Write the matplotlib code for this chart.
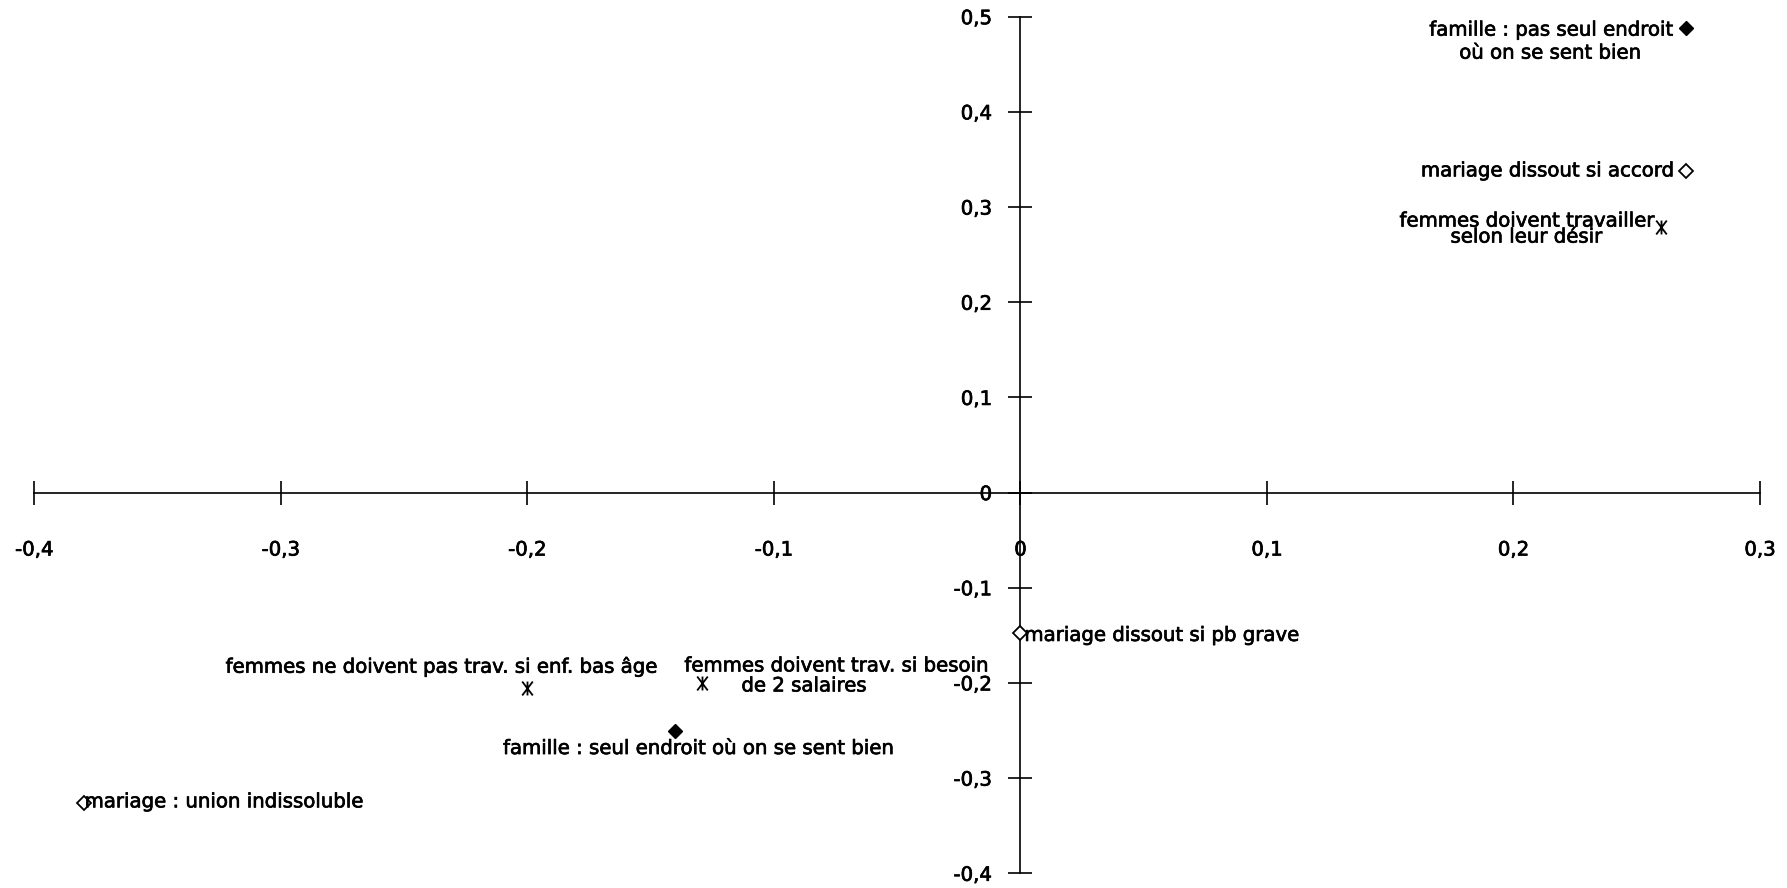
import matplotlib
matplotlib.use("Agg")
import matplotlib.pyplot as plt
import matplotlib.patheffects as pe
from matplotlib.path import Path
from matplotlib.ticker import FixedLocator, FixedFormatter

plt.rcParams['font.family'] = ['DejaVu Sans']

# factor plane: coordinates of the modalities
labels = [
    "famille : pas seul endroit\noù on se sent bien",
    "famille : seul endroit où on se sent bien",
    "mariage dissout si accord",
    "mariage dissout si pb grave",
    "mariage : union indissoluble",
    "femmes doivent travailler\nselon leur désir",
    "femmes doivent trav. si besoin\nde 2 salaires",
    "femmes ne doivent pas trav. si enf. bas âge",
]
coord_x = [0.27, -0.14, 0.27, 0.0, -0.38, 0.26, -0.129, -0.2]
coord_y = [0.488, -0.25, 0.338, -0.148, -0.326, 0.279, -0.2, -0.205]
kinds = ['filled', 'filled', 'open', 'open', 'open', 'star', 'star', 'star']

x_ticks = [-0.4, -0.3, -0.2, -0.1, 0.0, 0.1, 0.2, 0.3]
x_ticklabels = ['-0,4', '-0,3', '-0,2', '-0,1', '0', '0,1', '0,2', '0,3']
y_ticks = [-0.4, -0.3, -0.2, -0.1, 0.0, 0.1, 0.2, 0.3, 0.4, 0.5]
y_ticklabels = ['-0,4', '-0,3', '-0,2', '-0,1', '0', '0,1', '0,2', '0,3', '0,4', '0,5']

# text placement per label line: (dx, dy) in pixels from the point, alignment
line_layout = [
    [(-13, -2, 'right'), (-136, -25, 'center')],
    [(23, -18, 'center')],
    [(-12, 0, 'right')],
    [(4, -2, 'left')],
    [(1, 1, 'left')],
    [(-7, 6, 'right'), (-135, -10, 'center')],
    [(-18, 17, 'left'), (39, -3, 'left')],
    [(-86, 21, 'center')],
]

# X with a vertical bar through it
star_path = Path(
    [(-0.38, -0.5), (0.38, 0.5), (-0.38, 0.5), (0.38, -0.5), (0, -0.5), (0, 0.5)],
    [Path.MOVETO, Path.LINETO, Path.MOVETO, Path.LINETO, Path.MOVETO, Path.LINETO],
)

marker_style = {
    'filled': dict(marker='D', ms=7, mfc='black', mec='black', mew=1.0),
    'open': dict(marker='D', ms=7, mfc='white', mec='black', mew=1.3),
    'star': dict(marker=star_path, ms=10, mfc='none', mec='black', mew=1.3),
}

ink = [pe.withStroke(linewidth=0.5, foreground='black')]
font_size = 14.2

fig = plt.figure(figsize=(17.87, 8.88), dpi=100)
ax = fig.add_axes([34.3 / 1787, 14.7 / 888, 1725.7 / 1787, 856.6 / 888])
ax.set_xlim(-0.4, 0.3)
ax.set_ylim(-0.4, 0.5)

for side in ['top', 'right']:
    ax.spines[side].set_visible(False)
ax.spines['left'].set_position(('data', 0))
ax.spines['bottom'].set_position(('data', 0))
for side in ['left', 'bottom']:
    ax.spines[side].set_linewidth(1.2)
    ax.spines[side].set_zorder(1)

ax.xaxis.set_major_locator(FixedLocator(x_ticks))
ax.xaxis.set_major_formatter(FixedFormatter(x_ticklabels))
ax.yaxis.set_major_locator(FixedLocator(y_ticks))
ax.yaxis.set_major_formatter(FixedFormatter(y_ticklabels))
ax.tick_params(axis='x', direction='inout', length=17, width=1.2, pad=26, labelsize=font_size)
ax.tick_params(axis='y', direction='inout', length=17, width=1.2, pad=12, labelsize=font_size)
for lbl in ax.get_xticklabels() + ax.get_yticklabels():
    lbl.set_path_effects(ink)

for i, name in enumerate(labels):
    ax.plot(coord_x[i], coord_y[i], linestyle='none', clip_on=False, zorder=3,
            **marker_style[kinds[i]])
    for line, (dx, dy, ha) in zip(name.split('\n'), line_layout[i]):
        ax.annotate(line, (coord_x[i], coord_y[i]), xytext=(dx, dy),
                    textcoords='offset pixels', ha=ha, va='center',
                    fontsize=font_size, color='black', zorder=4,
                    path_effects=ink)

fig.savefig('out.png', dpi=100)
